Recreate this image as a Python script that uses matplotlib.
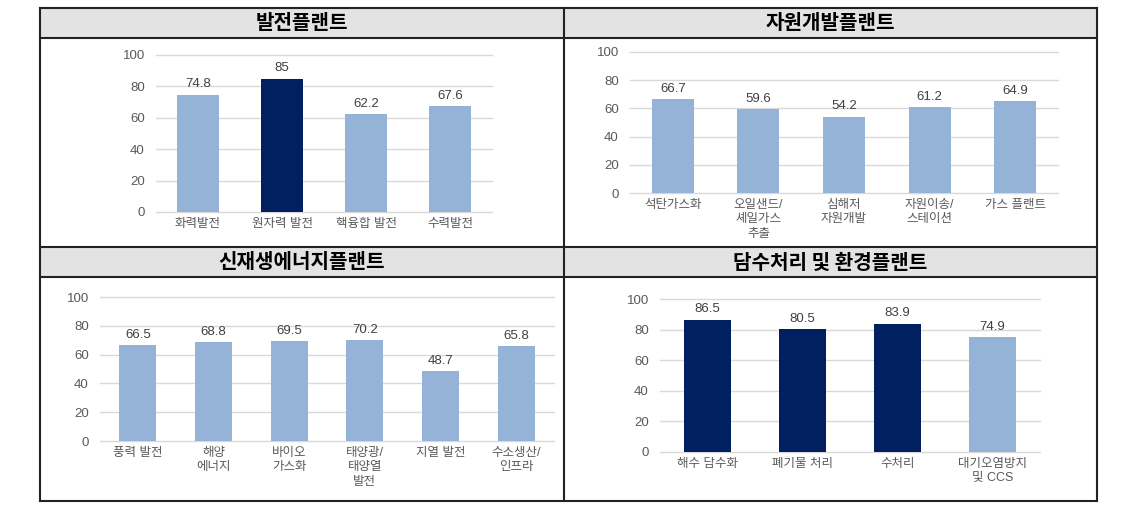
import matplotlib
matplotlib.use("Agg")
import matplotlib.pyplot as plt
from matplotlib.patches import Rectangle
from matplotlib.lines import Line2D

plt.rcParams['font.family'] = ['Liberation Sans', 'Noto Sans CJK KR', 'DejaVu Sans']

W, H = 1126, 513

# 데이터
titles = ['발전플랜트', '자원개발플랜트', '신재생에너지플랜트', '담수처리 및 환경플랜트']

power_labels = ['화력발전', '원자력 발전', '핵융합 발전', '수력발전']
power_values = [74.8, 85, 62.2, 67.6]
power_dark = [False, True, False, False]

resource_labels = ['석탄가스화', '오일샌드/\n셰일가스\n추출', '심해저\n자원개발', '자원이송/\n스테이션', '가스 플랜트']
resource_values = [66.7, 59.6, 54.2, 61.2, 64.9]
resource_dark = [False] * 5

renew_labels = ['풍력 발전', '해양\n에너지', '바이오\n가스화', '태양광/\n태양열\n발전', '지열 발전', '수소생산/\n인프라']
renew_values = [66.5, 68.8, 69.5, 70.2, 48.7, 65.8]
renew_dark = [False] * 6

water_labels = ['해수 담수화', '폐기물 처리', '수처리', '대기오염방지\n및 CCS']
water_values = [86.5, 80.5, 83.9, 74.9]
water_dark = [True, True, True, False]

LIGHT = '#95b3d7'
DARK = '#002060'


def fx(px):
    return px / W


def fy(py):
    return 1 - py / H


fig = plt.figure(figsize=(W / 100, H / 100), dpi=100)

# 표 머리행 배경
for (x0, x1, y0, y1) in [(39.5, 564, 8, 38), (564, 1097, 8, 38),
                         (39.5, 564, 247, 277), (564, 1097, 247, 277)]:
    fig.add_artist(Rectangle((fx(x0), fy(y1)), fx(x1) - fx(x0), fy(y0) - fy(y1),
                             transform=fig.transFigure, facecolor='#e3e3e3',
                             edgecolor='none', zorder=0))

# 표 테두리
lw = 1.5
for (xa, ya, xb, yb) in [(39.5, 8, 1097, 8), (39.5, 38, 1097, 38),
                         (39.5, 247, 1097, 247), (39.5, 277, 1097, 277),
                         (39.5, 501, 1097, 501), (39.5, 8, 39.5, 501),
                         (564, 8, 564, 501), (1097, 8, 1097, 501)]:
    fig.add_artist(Line2D([fx(xa), fx(xb)], [fy(ya), fy(yb)],
                          transform=fig.transFigure, color='#222222', lw=lw))

# 제목
for t, (cx, cy) in zip(titles, [(302, 23), (830, 23), (302, 262), (830, 262)]):
    fig.text(fx(cx), fy(cy), t, ha='center', va='center', fontsize=14.5,
             fontweight='bold', color='black', family='Noto Sans CJK KR')


def draw_panel(rect, labels, values, dark, width):
    left, right, top, bottom = rect
    ax = fig.add_axes([fx(left), fy(bottom), fx(right) - fx(left), fy(top) - fy(bottom)])
    x = range(len(values))
    colors = [DARK if d else LIGHT for d in dark]
    ax.bar(x, values, width=width, color=colors, zorder=2)
    for xi, v in zip(x, values):
        ax.annotate(f'{v:g}', (xi, v), xytext=(0, 3), textcoords='offset points',
                    ha='center', va='bottom', fontsize=9.5, color='#404040')
    ax.set_xlim(-0.5, len(values) - 0.5)
    ax.set_ylim(0, 100)
    ax.set_yticks(range(0, 101, 20))
    ax.set_xticks(list(x))
    ax.set_xticklabels(labels, fontsize=9, color='#595959', linespacing=1.3)
    ax.tick_params(axis='y', labelsize=9.5, colors='#595959', length=0, pad=8)
    ax.tick_params(axis='x', length=0, pad=4)
    ax.yaxis.grid(True, color='#d9d9d9', lw=1, zorder=0)
    ax.set_axisbelow(True)
    for s in ax.spines.values():
        s.set_visible(False)
    ax.patch.set_alpha(0)
    for gl in ax.get_ygridlines():
        gl.set_clip_on(False)
    return ax


draw_panel((156, 492, 55, 212), power_labels, power_values, power_dark, 0.5)
draw_panel((630, 1058, 52, 193), resource_labels, resource_values, resource_dark, 0.49)
draw_panel((100, 554, 297, 441), renew_labels, renew_values, renew_dark, 0.49)
draw_panel((660, 1040, 299, 452), water_labels, water_values, water_dark, 0.5)

fig.savefig('out.png', dpi=100)
